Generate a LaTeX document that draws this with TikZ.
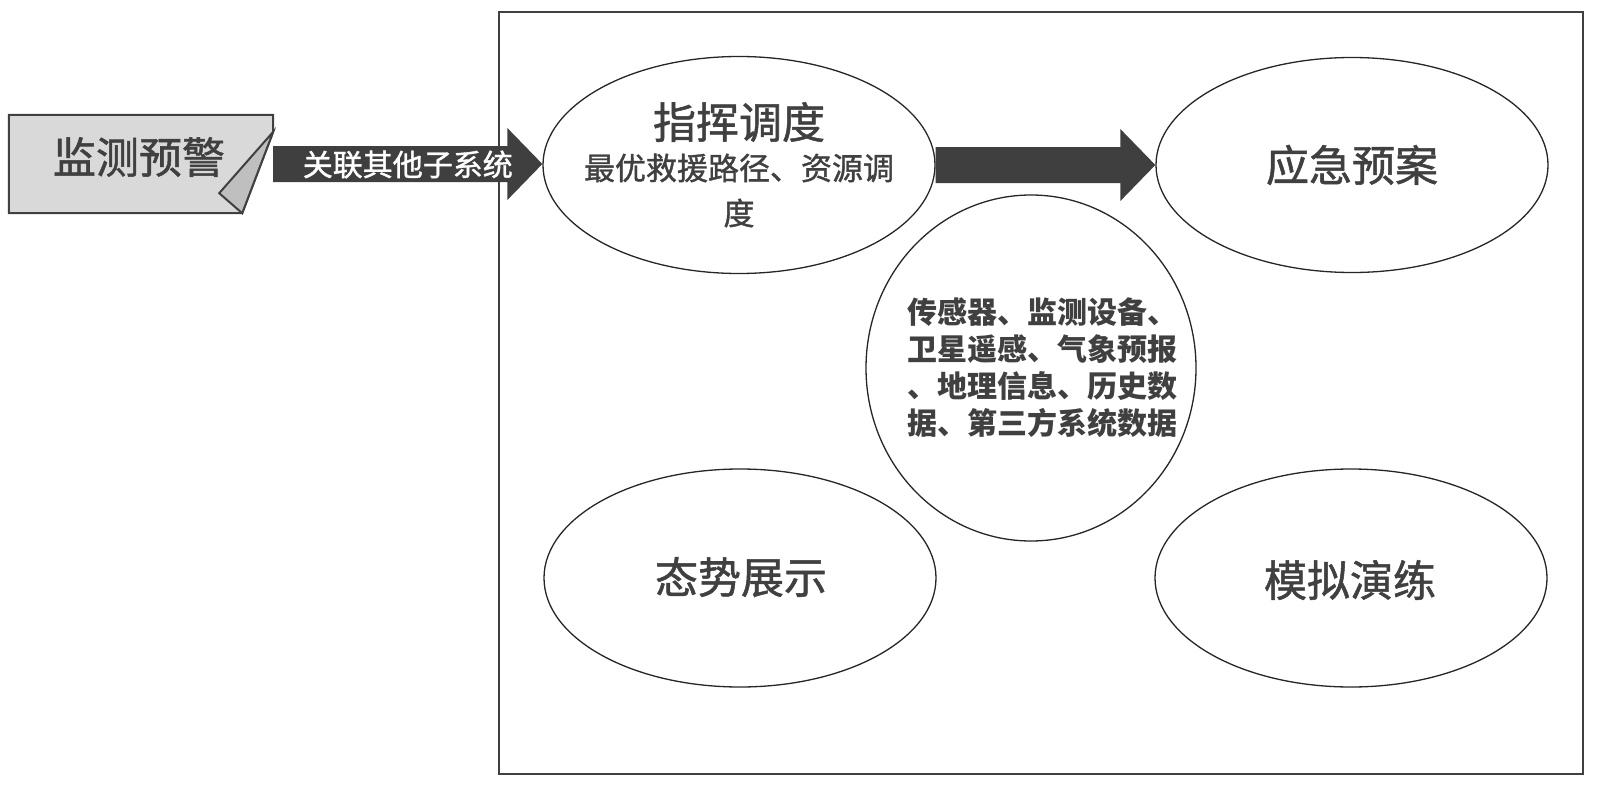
\documentclass[tikz,border=0pt]{standalone}
\usepackage{fontspec}
\setmainfont{Noto Sans CJK SC}
\newfontfamily\semib[FakeBold=1.2]{Noto Sans CJK SC}
\usetikzlibrary{calc,shapes.geometric}
\definecolor{txt}{HTML}{404040}
\definecolor{arr}{HTML}{3F3F3F}
\definecolor{lgrey}{HTML}{D9D9D9}
\definecolor{dgrey}{HTML}{BFBFBF}
\definecolor{edge}{HTML}{262626}
\newcommand\bigarrow[2]{%
  \fill[arr] ($(#1)+(0,-18)$) -- ($(#1 -| #2)+(-35,-18)$) -- ($(#1 -| #2)+(-35,-36)$)
    -- (#1 -| #2) -- ($(#1 -| #2)+(-35,36)$) -- ($(#1 -| #2)+(-35,18)$) -- ($(#1)+(0,18)$) -- cycle;}
\begin{document}
\begin{tikzpicture}[x=1pt,y=-1pt,
  ell/.style={ellipse, draw=edge, line width=1.3pt, fill=white, minimum width=392pt, minimum height=217pt, inner sep=0pt},
  big/.style={text=txt, font=\semib\fontsize{43}{45}\selectfont, inner sep=0pt},
  mid/.style={text=txt, font=\semib\fontsize{31}{40}\selectfont, inner sep=0pt},
  srcs/.style={text=txt, font=\bfseries\fontsize{30}{37}\selectfont, align=left, inner sep=0pt},
  lbl/.style={text=white, font=\semib\fontsize{30}{36}\selectfont, inner sep=0pt},
  frame/.style={draw=txt, line width=2pt, minimum width=1084pt, minimum height=762pt, inner sep=0pt},
  jshape/.style={draw=txt, line width=2pt, fill=lgrey, line join=miter},
  jfold/.style={draw=txt, line width=2pt, fill=dgrey, line join=miter}]
\useasboundingbox (0,0) rectangle (1600,797);
% frame
\node[frame] (box) at (1041,393) {};
% left folded shape
\node[minimum width=264pt, minimum height=98pt, inner sep=0pt] (jiance) at (141,164) {};
\draw[jshape] (jiance.north west) -- (jiance.north east) -- ($(jiance.north east)+(0,17)$)
  -- ($(jiance.south east)+(-31,0)$) -- (jiance.south west) -- cycle;
\draw[jfold] ($(jiance.north east)+(0,17)$) -- ($(jiance.south east)+(-54,-20)$)
  -- ($(jiance.south east)+(-31,0)$) -- cycle;
\node[big] (jianceT) at ($(jiance)+(-2,-7)$) {监测预警};
% ellipses
\node[ell] (zhihui) at (739,165) {};
\node[ell, minimum height=215pt] (yingji) at (1352,165) {};
\node[ell, minimum width=330pt, minimum height=346pt] (shuju) at (1031,368) {};
\node[ell, minimum height=218pt] (taishi) at (740,578) {};
\node[ell, minimum height=218pt] (moni) at (1351,578) {};
% arrows
\bigarrow{jiance.east}{zhihui.west}
\bigarrow{zhihui.east}{yingji.west}
\node[lbl] (guanlian) at ($(jiance.east)!0.5!(zhihui.west)$) {关联其他子系统};
% texts
\node[big] (zhihuiT) at ($(zhihui)+(0,-43)$) {指挥调度};
\node[mid] (zhihuiA) at ($(zhihui)+(0,3)$) {最优救援路径、资源调};
\node[mid] (zhihuiB) at ($(zhihui)+(0,48)$) {度};
\node[big] (yingjiT) at (yingji) {应急预案};
\node[big] (taishiT) at ($(taishi)+(1,-1)$) {态势展示};
\node[big] (moniT) at ($(moni)+(-1,2)$) {模拟演练};
\node[srcs] (shujuT) at ($(shuju)+(11,0)$) {传感器、监测设备、\\卫星遥感、气象预报\\、地理信息、历史数\\据、第三方系统数据};
\end{tikzpicture}
\end{document}
